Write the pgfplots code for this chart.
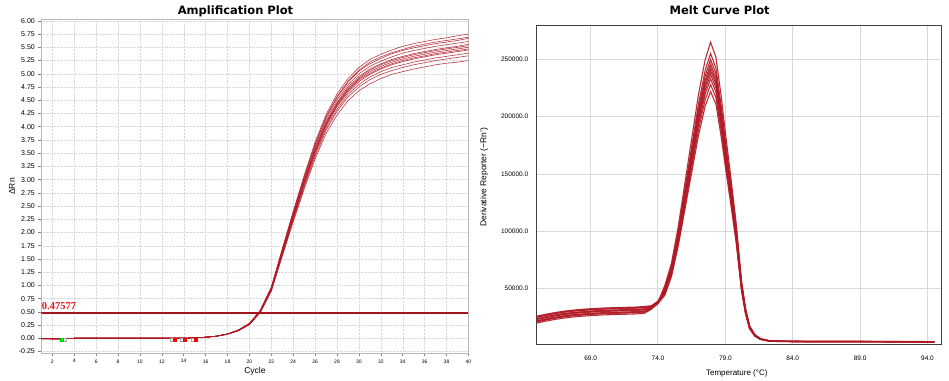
\documentclass[border=0pt]{standalone}
\usepackage{fontspec}
\setmainfont{Liberation Sans}
\newfontfamily\titlefont{DejaVu Sans}
\newfontfamily\thrfont{Liberation Serif}
\usepackage{pgfplots}
\usepackage{pgfplotstable}
\pgfplotsset{compat=1.18}
\definecolor{curve}{RGB}{176,24,36}
\definecolor{thr}{RGB}{165,20,30}
\definecolor{thrtxt}{RGB}{235,20,20}

\pgfplotstableread{
c a1 a2 a3 a4 a5 a6 a7 a8 a9 a10 a11 a12
1 0.00 -0.01 0.00 -0.01 0.00 0.00 -0.01 0.00 0.00 -0.01 0.00 -0.01
2 -0.01 -0.01 -0.01 -0.01 -0.01 -0.01 -0.01 -0.01 -0.01 -0.01 -0.01 -0.01
3 -0.01 -0.01 -0.01 -0.01 -0.01 -0.01 -0.01 -0.01 -0.01 -0.01 -0.01 -0.01
4 0.00 0.00 0.00 0.00 0.00 0.00 0.00 0.00 0.00 0.00 0.00 0.00
5 0.00 0.00 0.00 0.00 0.00 0.00 0.00 0.00 0.00 0.00 0.00 0.00
6 0.00 0.00 0.00 0.00 0.00 0.00 0.00 0.00 0.00 0.00 0.00 0.00
7 0.00 0.00 0.00 0.00 0.00 0.00 0.00 0.00 0.00 0.00 0.00 0.00
8 0.00 0.00 0.00 0.00 0.00 0.00 0.00 0.00 0.00 0.00 0.00 0.00
9 0.00 0.00 0.00 0.00 0.00 0.00 0.00 0.00 0.00 0.00 0.00 0.00
10 0.00 0.00 0.00 0.00 0.00 0.00 0.00 0.00 0.00 0.00 0.00 0.00
11 0.00 0.00 0.00 0.00 0.00 0.00 0.00 0.00 0.00 0.00 0.00 0.00
12 0.00 0.00 0.00 0.00 0.00 0.00 0.00 0.00 0.00 0.00 0.00 0.00
13 0.00 0.00 0.00 0.00 0.00 0.00 0.00 0.00 0.00 0.00 0.00 0.00
14 0.00 0.00 0.00 0.00 0.00 0.00 0.00 0.00 0.00 0.00 0.00 0.00
15 0.01 0.01 0.01 0.01 0.01 0.01 0.01 0.01 0.01 0.01 0.01 0.01
16 0.02 0.02 0.02 0.02 0.02 0.02 0.02 0.02 0.02 0.02 0.02 0.02
17 0.04 0.04 0.04 0.04 0.04 0.04 0.04 0.04 0.04 0.04 0.04 0.04
18 0.08 0.08 0.08 0.08 0.08 0.08 0.08 0.08 0.08 0.08 0.08 0.08
19 0.14 0.15 0.15 0.15 0.15 0.15 0.15 0.15 0.15 0.15 0.16 0.16
20 0.26 0.26 0.26 0.27 0.27 0.27 0.27 0.27 0.28 0.28 0.28 0.28
21 0.49 0.49 0.50 0.50 0.51 0.51 0.51 0.52 0.52 0.53 0.53 0.53
22 0.89 0.90 0.91 0.92 0.93 0.93 0.93 0.94 0.95 0.96 0.96 0.97
23 1.55 1.57 1.59 1.60 1.61 1.62 1.63 1.64 1.65 1.67 1.68 1.69
24 2.20 2.23 2.25 2.28 2.29 2.30 2.31 2.32 2.35 2.37 2.38 2.40
25 2.82 2.86 2.89 2.92 2.94 2.95 2.96 2.98 3.01 3.04 3.05 3.08
26 3.39 3.44 3.48 3.51 3.53 3.55 3.57 3.59 3.62 3.66 3.67 3.71
27 3.87 3.93 3.97 4.01 4.03 4.05 4.07 4.09 4.13 4.17 4.19 4.23
28 4.22 4.29 4.33 4.38 4.40 4.42 4.44 4.46 4.51 4.55 4.57 4.62
29 4.49 4.56 4.61 4.65 4.68 4.70 4.72 4.75 4.79 4.84 4.86 4.91
30 4.68 4.75 4.80 4.85 4.88 4.90 4.92 4.95 5.00 5.05 5.07 5.12
31 4.81 4.89 4.94 4.99 5.01 5.04 5.07 5.09 5.14 5.19 5.22 5.27
32 4.91 4.99 5.04 5.09 5.11 5.14 5.17 5.19 5.24 5.29 5.32 5.37
33 4.99 5.06 5.12 5.17 5.19 5.22 5.25 5.27 5.32 5.38 5.40 5.45
34 5.04 5.12 5.17 5.23 5.25 5.28 5.31 5.33 5.39 5.44 5.46 5.52
35 5.09 5.17 5.22 5.28 5.30 5.33 5.36 5.38 5.44 5.49 5.52 5.57
36 5.13 5.21 5.26 5.32 5.34 5.37 5.40 5.42 5.48 5.53 5.56 5.61
37 5.17 5.25 5.30 5.36 5.38 5.41 5.44 5.46 5.52 5.57 5.60 5.65
38 5.20 5.28 5.33 5.39 5.41 5.44 5.47 5.49 5.55 5.60 5.63 5.68
39 5.22 5.31 5.36 5.42 5.44 5.47 5.50 5.52 5.58 5.63 5.66 5.72
40 5.25 5.34 5.39 5.45 5.47 5.50 5.53 5.56 5.61 5.67 5.69 5.75
}\amp

\pgfplotstableread{
T m1 m2 m3 m4 m5 m6 m7 m8 m9 m10
65.0 20000 25000 22000 26000 23000 21000 24000 25500 21500 23500
65.5 21200 26200 23200 27200 24200 22200 25200 26700 22700 24700
66.0 22400 27400 24400 28400 25400 23400 26400 27900 23900 25900
66.5 23400 28400 25400 29400 26400 24400 27400 28900 24900 26900
67.0 24300 29300 26300 30300 27300 25300 28300 29800 25800 27800
67.5 25000 30000 27000 31000 28000 26000 29000 30500 26500 28500
68.0 25600 30600 27600 31600 28600 26600 29600 31100 27100 29100
69.0 26500 31500 28500 32500 29500 27500 30500 32000 28000 30000
70.0 27100 32100 29100 33100 30100 28100 31100 32600 28600 30600
71.0 27500 32500 29500 33500 30500 28500 31500 33000 29000 31000
72.0 27800 32800 29800 33800 30800 28800 31800 33300 29300 31300
72.5 28000 33000 30000 34000 31000 29000 32000 33500 29500 31500
73.0 28500 33500 30500 34500 31500 29500 32500 34000 30000 32000
73.5 32000 34500 33000 35000 33500 32500 34000 34750 32750 33750
74.0 37000 38700 37700 39000 38000 37300 38300 38800 37500 38200
74.5 44000 45200 46200 47000 47600 48200 48800 49600 50600 52600
75.0 60500 62200 63600 64600 65500 66300 67100 68200 69600 72300
75.5 87100 89500 91500 93000 94200 95400 96600 98100 100100 104000
76.0 119200 122500 125200 127300 129000 130500 132200 134300 137000 142400
76.5 151300 155400 158900 161500 163700 165700 167800 170400 173900 180700
77.0 183400 188400 192600 195800 198400 200800 203400 206600 210800 219000
77.5 209100 214800 219600 223200 226200 228900 231900 235500 240300 249700
77.9 221900 228000 233000 236900 240100 243000 246100 250000 255100 265000
78.3 210900 216700 221500 225200 228200 230900 233900 237600 242400 251900
78.7 181600 186500 190700 193800 196400 198800 201400 204500 208700 216800
79.0 155900 160100 163700 166400 168600 170700 172900 175600 179200 186200
79.4 123800 127200 130000 132200 133900 135500 137300 139500 142300 147800
79.8 89900 92300 94400 95900 97200 98400 99700 101200 103300 107300
80.2 47700 49000 50100 50900 51600 52200 52900 53700 54800 56900
80.5 27500 28300 28900 29400 29800 30100 30500 31000 31600 32900
80.8 14700 15100 15400 15700 15900 16100 16300 16500 16900 17500
81.2 8300 8600 8800 8900 9000 9100 9200 9300 9500 9800
81.6 5600 5800 5900 6000 6000 6000 6100 6200 6300 6500
82.2 4200 4400 4400 4500 4500 4500 4600 4600 4700 4800
83.0 3800 3900 4000 4000 4000 4000 4100 4100 4200 4300
85.0 3600 3700 3800 3800 3800 3800 3900 3900 4000 4100
88.0 3600 3700 3800 3800 3800 3800 3900 3900 4000 4100
91.0 3500 3600 3700 3700 3700 3700 3800 3800 3900 4000
94.5 3300 3400 3500 3500 3500 3500 3600 3600 3700 3800
}\melt

\begin{document}
\begin{tikzpicture}
\useasboundingbox (0,0) rectangle (949pt,380pt);
% ---------------- Amplification plot ----------------
\begin{axis}[
  at={(41.4pt,27pt)}, anchor=south west,
  scale only axis, width=427pt, height=333pt,
  xmin=1, xmax=40, ymin=-0.278, ymax=6.017,
  xtick={2,4,...,40},
  ytick distance=0.25,
  /pgf/number format/assume math mode=true,
  xticklabel style={font=\fontsize{5}{6}\selectfont, /pgf/number format/.cd, fixed, precision=0},
  yticklabel style={font=\fontsize{7}{8}\selectfont, /pgf/number format/.cd, fixed, fixed zerofill, precision=2},
  grid=major,
  major grid style={densely dotted, gray!30},
  axis line style={gray!55, line width=1pt},
  tick style={gray, line width=0.5pt},
  tick align=outside, major tick length=3pt,
  xtick pos=bottom, ytick pos=left,
  xlabel={Cycle},
  xlabel style={font=\fontsize{8.5}{10}\selectfont, at={(axis description cs:0.5,-0.056)}, anchor=center},
  ylabel={ΔRn},
  ylabel style={font=\fontsize{8.5}{10}\selectfont, at={(axis description cs:-0.069,0.5)}, anchor=center},
]
\pgfplotsinvokeforeach{1,...,12}{
  \addplot[curve, line width=0.6pt, opacity=0.85] table[x=c, y=a#1] {\amp};
}
\addplot[thr, line width=2.2pt] coordinates {(1,0.47577) (40,0.47577)};
\node[anchor=base west, inner sep=0, text=thrtxt, font=\thrfont\bfseries\fontsize{10.5}{12}\selectfont] at (axis cs:1.03,0.54) {0.47577};
\addplot[only marks, mark=square*, mark size=1.5pt, draw=gray!70, fill=white] coordinates {(3.15,-0.02) (12.87,-0.02) (13.85,-0.02) (14.85,-0.02)};
\addplot[only marks, mark=square*, mark size=1.5pt, draw=green!80!black, fill=green] coordinates {(2.85,-0.02)};
\addplot[only marks, mark=square*, mark size=1.5pt, draw=red, fill=red] coordinates {(13.14,-0.02) (14.1,-0.02) (15.1,-0.02)};
\end{axis}
% ---------------- Melt curve plot ----------------
\begin{axis}[
  at={(536.7pt,36pt)}, anchor=south west,
  scale only axis, width=404.3pt, height=319pt,
  xmin=65, xmax=95, ymin=1700, ymax=280000,
  xtick={69,74,...,94},
  ytick={50000,100000,150000,200000,250000},
  scaled y ticks=false, scaled x ticks=false,
  /pgf/number format/assume math mode=true,
  xticklabel style={font=\fontsize{6.5}{8}\selectfont, yshift=-8pt, /pgf/number format/.cd, fixed, fixed zerofill, precision=1, 1000 sep={}},
  yticklabel style={font=\fontsize{6.5}{8}\selectfont, xshift=-5pt, /pgf/number format/.cd, fixed, fixed zerofill, precision=1, 1000 sep={}},
  grid=major,
  major grid style={gray!30, line width=1pt},
  axis line style={black!75, line width=0.8pt},
  major tick length=0pt,
  xlabel={Temperature (°C)},
  xlabel style={font=\fontsize{8}{10}\selectfont, at={(axis description cs:0.495,-0.091)}, anchor=center},
  ylabel={Derivative Reporter (−Rn')},
  ylabel style={font=\fontsize{8.5}{10}\selectfont, at={(axis description cs:-0.130,0.523)}, anchor=center},
]
\pgfplotsinvokeforeach{1,...,10}{
  \addplot[curve, line width=1.1pt, opacity=0.9] table[x=T, y=m#1] {\melt};
}
\end{axis}
\node[font=\titlefont\bfseries\fontsize{11.5}{13}\selectfont] at (235.5pt,369pt) {Amplification Plot};
\node[font=\titlefont\bfseries\fontsize{11.5}{13}\selectfont] at (719.7pt,370pt) {Melt Curve Plot};
\end{tikzpicture}
\end{document}
